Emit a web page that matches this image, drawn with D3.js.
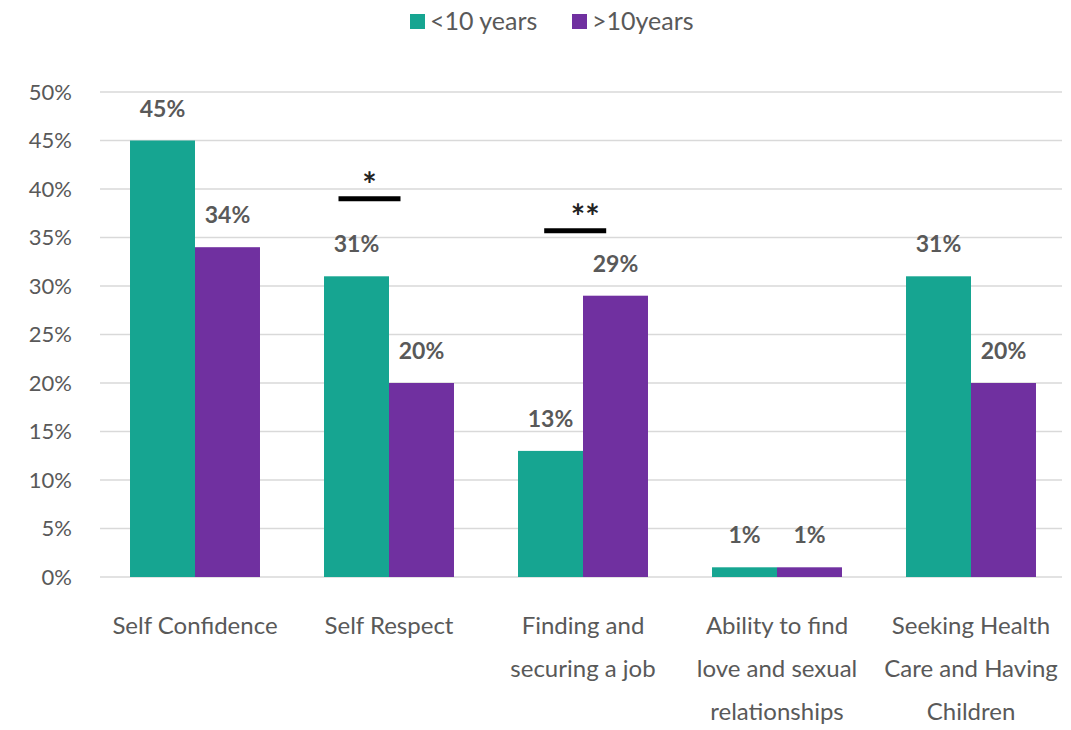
<!DOCTYPE html>
<html>
<head>
<meta charset="utf-8">
<script src="https://cdn.jsdelivr.net/npm/d3@7"></script>
<style>
  body { margin: 0; background: #fff; }
  svg text { font-family: Lato, "Open Sans", sans-serif; fill: #595959; }
</style>
</head>
<body>
<div id="chart"></div>
<script>
// chart data
var categories = ["Self Confidence", "Self Respect", "Finding and securing a job",
  "Ability to find love and sexual relationships", "Seeking Health Care and Having Children"];
var catLines = [["Self Confidence"], ["Self Respect"], ["Finding and", "securing a job"],
  ["Ability to find", "love and sexual", "relationships"], ["Seeking Health", "Care and Having", "Children"]];
var seriesNames = ["<10 years", ">10years"];
var under10 = [45, 31, 13, 1, 31];
var over10 = [34, 20, 29, 1, 20];
var yTicks = [0, 5, 10, 15, 20, 25, 30, 35, 40, 45, 50];
// significance markers: category index, level (%), label
var sigCat = [1, 2];
var sigLevel = [39, 35.7];
var sigLabel = ["*", "**"];

var colors = ["#16a591", "#7030a0"];

var width = 1071, height = 730;
var svg = d3.select("#chart").append("svg")
  .attr("width", width)
  .attr("height", height);

var x0 = d3.scaleBand().domain(categories).range([98, 1068]).paddingInner(0.33).paddingOuter(0.165);
var x1 = d3.scaleBand().domain(seriesNames).range([0, x0.bandwidth()]);
var y = d3.scaleLinear().domain([0, 50]).range([577, 92]);

// gridlines
svg.append("g").selectAll("line")
  .data(yTicks)
  .enter()
  .append("line")
  .attr("x1", 100).attr("x2", 1062)
  .attr("y1", function(d){ return y(d); })
  .attr("y2", function(d){ return y(d); })
  .attr("stroke", "#d9d9d9")
  .attr("stroke-width", 1.5);

// y axis labels
var yAxis = d3.axisLeft(y).tickValues(yTicks).tickFormat(function(d){ return d + "%"; }).tickSize(0).tickPadding(0);
var yg = svg.append("g").attr("transform", "translate(72,0)").call(yAxis);
yg.select(".domain").remove();
yg.selectAll("text").style("font-size", "22px").attr("fill", "#595959")
  .style("font-family", "Lato, 'Open Sans', sans-serif");

var rows = categories.map(function(c, i){
  return { cat: c, vals: [under10[i], over10[i]] };
});

var groups = svg.selectAll(".grp")
  .data(rows)
  .enter()
  .append("g")
  .attr("transform", function(d){ return "translate(" + x0(d.cat) + ",0)"; });

groups.selectAll("rect")
  .data(function(d){ return d.vals.map(function(v, j){ return { s: seriesNames[j], v: v, j: j }; }); })
  .enter()
  .append("rect")
  .attr("x", function(d){ return x1(d.s); })
  .attr("width", x1.bandwidth())
  .attr("y", function(d){ return y(d.v); })
  .attr("height", function(d){ return y(0) - y(d.v); })
  .attr("fill", function(d){ return colors[d.j]; });

groups.selectAll("text.val")
  .data(function(d){ return d.vals.map(function(v, j){ return { s: seriesNames[j], v: v }; }); })
  .enter()
  .append("text")
  .attr("class", "val")
  .attr("x", function(d){ return x1(d.s) + x1.bandwidth() / 2; })
  .attr("y", function(d){ return y(d.v) - 24; })
  .attr("text-anchor", "middle")
  .style("font-size", "23px")
  .style("font-weight", "bold")
  .text(function(d){ return d.v + "%"; });

// category labels
var xl = svg.selectAll(".xlab")
  .data(catLines)
  .enter()
  .append("text")
  .attr("text-anchor", "middle")
  .style("font-size", "24px")
  .attr("transform", function(d, i){ return "translate(" + (x0(categories[i]) + x0.bandwidth() / 2) + ",634)"; });
xl.selectAll("tspan")
  .data(function(d){ return d; })
  .enter()
  .append("tspan")
  .attr("x", 0)
  .attr("y", function(d, i){ return i * 43; })
  .text(function(d){ return d; });

// significance bars
sigCat.forEach(function(ci, k){
  var cx = x0(categories[ci]) + x1.bandwidth() * (ci === 1 ? 0.7 : 0.88);
  svg.append("line")
    .attr("x1", cx - 31).attr("x2", cx + 31)
    .attr("y1", y(sigLevel[k])).attr("y2", y(sigLevel[k]))
    .attr("stroke", "#000")
    .attr("stroke-width", 5);
  svg.append("text")
    .attr("x", cx + (ci === 1 ? 0 : 10))
    .attr("y", y(sigLevel[k]) - 2)
    .attr("text-anchor", "middle")
    .style("font-size", "34px")
    .style("font-weight", "bold")
    .style("fill", "#222")
    .text(sigLabel[k]);
});

// legend
var legX = [410, 572];
var leg = svg.selectAll(".leg")
  .data(seriesNames)
  .enter()
  .append("g")
  .attr("transform", function(d, i){ return "translate(" + legX[i] + ",14)"; });
leg.append("rect")
  .attr("width", 15).attr("height", 15)
  .attr("fill", function(d, i){ return colors[i]; });
leg.append("text")
  .attr("x", 20).attr("y", 16)
  .style("font-size", "25px")
  .text(function(d){ return d; });
</script>
</body>
</html>
